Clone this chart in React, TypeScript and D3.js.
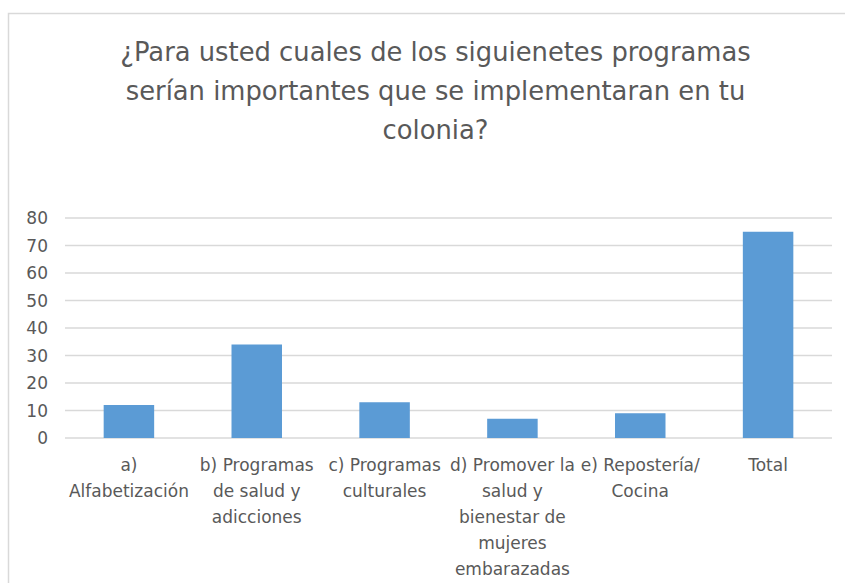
import React from "react";
import * as d3 from "d3";

const titleLines = [
  "¿Para usted cuales de los siguienetes programas",
  "serían importantes que se implementaran en tu",
  "colonia?",
];
const categories = [
  "a) Alfabetización",
  "b) Programas de salud y adicciones",
  "c) Programas culturales",
  "d) Promover la salud y bienestar de mujeres embarazadas",
  "e) Repostería/ Cocina",
  "Total",
];
const categoryLines = [
  ["a)", "Alfabetización"],
  ["b) Programas", "de salud y", "adicciones"],
  ["c) Programas", "culturales"],
  ["d) Promover la", "salud y", "bienestar de", "mujeres", "embarazadas"],
  ["e) Repostería/", "Cocina"],
  ["Total"],
];
const values = [12, 34, 13, 7, 9, 75];
const yTicks = [0, 10, 20, 30, 40, 50, 60, 70, 80];

const W = 845;
const H = 583;
const FONT = "'DejaVu Sans', sans-serif";
const TEXT = "#595959";
const GRID = "#d9d9d9";
const BAR = "#5b9bd5";

export default function App() {
  const plotLeft = 65;
  const plotRight = 832;
  const plotTop = 218;
  const plotBottom = 438;

  const x = d3.scaleBand<string>().domain(categories).range([plotLeft, plotRight]).padding(0);
  const y = d3.scaleLinear().domain([0, 80]).range([plotBottom, plotTop]);
  const barW = x.bandwidth() * 0.395;

  return (
    <svg
      width={W}
      height={H}
      style={{ position: "fixed", left: 0, top: 0, background: "#fff" }}
      fontFamily={FONT}
    >
      <rect x={0} y={0} width={W} height={H} fill="#fff" />
      <rect x={8.5} y={13.5} width={W + 20} height={H + 20} fill="none" stroke={GRID} strokeWidth={1.5} />
      {titleLines.map((t, i) => (
        <text key={i} x={435.5} y={61 + i * 39} textAnchor="middle" fontSize={25.8} fill={TEXT}>
          {t}
        </text>
      ))}
      {yTicks.map((t) => (
        <g key={t}>
          <line x1={plotLeft} x2={plotRight} y1={y(t)} y2={y(t)} stroke={GRID} strokeWidth={1.3} />
          <text x={48} y={y(t)} dy="0.36em" textAnchor="end" fontSize={17} fill={TEXT}>
            {t}
          </text>
        </g>
      ))}
      {categories.map((c, i) => (
        <rect
          key={c}
          x={(x(c) as number) + x.bandwidth() / 2 - barW / 2}
          y={y(values[i])}
          width={barW}
          height={y(0) - y(values[i])}
          fill={BAR}
        />
      ))}
      {categories.map((c, i) => (
        <text key={c} textAnchor="middle" fontSize={17} fill={TEXT}>
          {categoryLines[i].map((l, j) => (
            <tspan key={j} x={(x(c) as number) + x.bandwidth() / 2} y={471 + j * 26}>
              {l}
            </tspan>
          ))}
        </text>
      ))}
    </svg>
  );
}
